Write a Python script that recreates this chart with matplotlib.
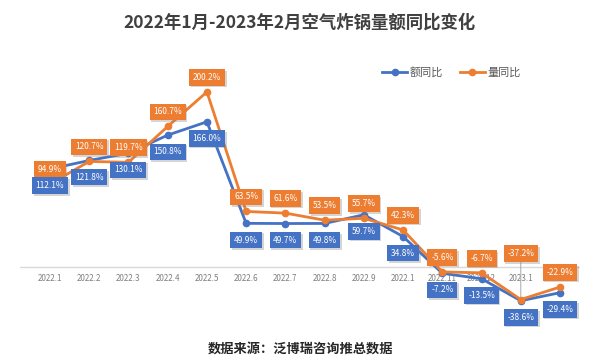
import matplotlib.pyplot as plt
import matplotlib.patheffects as pe

plt.rcParams['font.family'] = ['Noto Sans CJK SC', 'DejaVu Sans']

# Data
months = ["2022.1", "2022.2", "2022.3", "2022.4", "2022.5", "2022.6", "2022.7",
          "2022.8", "2022.9", "2022.1", "2022.11", "2022.12", "2023.1", "2023.2"]
value_yoy = [112.1, 121.8, 130.1, 150.8, 166.0, 49.9, 49.7, 49.8, 59.7, 34.8,
             -7.2, -13.5, -38.6, -29.4]
volume_yoy = [94.9, 120.7, 119.7, 160.7, 200.2, 63.5, 61.6, 53.5, 55.7, 42.3,
              -5.6, -6.7, -37.2, -22.9]

blue = '#4472C4'
orange = '#ED7D31'
shadow = [pe.withSimplePatchShadow(offset=(1.2, -1.2), shadow_rgbFace='#888888', alpha=0.35)]

fig = plt.figure(figsize=(6, 3.63), dpi=100)
ax = fig.add_axes([0.0333, 0.1185, 0.9334, 0.716])
x = list(range(len(months)))

ax.axhline(0, color='#d9d9d9', lw=1, zorder=1)
ax.plot(x, value_yoy, color=blue, lw=2, marker='o', ms=4.5, label='额同比', zorder=3)
ax.plot(x, volume_yoy, color=orange, lw=2, marker='o', ms=4.5, label='量同比', zorder=3)

# last month label is hidden under the -22.9% box in the original
for i, m in enumerate(months[:-1]):
    ax.annotate(m, (i, 0), xytext=(0, -5), textcoords='offset points',
                ha='center', va='top', fontsize=5.8, color='#7f7f7f', zorder=2)

for i, v in enumerate(volume_yoy):
    dy = 10.5
    arrow = None
    if i == 12:
        dy = 33
        arrow = dict(arrowstyle='-', color='#a6a6a6', lw=0.7, shrinkA=0, shrinkB=2)
    t = ax.annotate(f'{v}%', (i, v), xytext=(0, dy), textcoords='offset points',
                    ha='center', va='center', fontsize=6, color='white', zorder=5,
                    arrowprops=arrow,
                    bbox=dict(boxstyle='square,pad=0.45', fc=orange, ec='none'))
    t.get_bbox_patch().set_path_effects(shadow)
for i, v in enumerate(value_yoy):
    t = ax.annotate(f'{v}%', (i, v), xytext=(0, -12), textcoords='offset points',
                    ha='center', va='center', fontsize=6, color='white', zorder=5,
                    bbox=dict(boxstyle='square,pad=0.45', fc=blue, ec='none'))
    t.get_bbox_patch().set_path_effects(shadow)

ax.set_xlim(-0.765, 13.51)
ax.set_ylim(-60.6, 236.6)
ax.axis('off')

fig.text(0.5, 0.938, '2022年1月-2023年2月空气炸锅量额同比变化', ha='center', va='center',
         fontsize=12.5, fontweight='bold', color='#404040')
fig.legend(loc='center', bbox_to_anchor=(0.753, 0.80), ncol=2, frameon=False,
           fontsize=8, labelcolor='#595959', handlelength=2.2, handletextpad=0.3,
           columnspacing=1.5)
fig.text(0.5, 0.04, '数据来源：泛博瑞咨询推总数据', ha='center', va='center',
         fontsize=9.5, fontweight='bold', color='#262626')

fig.savefig('out.png', dpi=100)
